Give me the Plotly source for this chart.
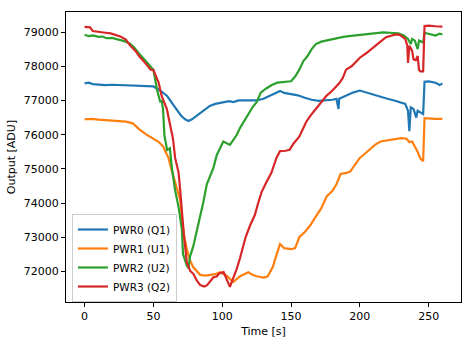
import plotly.graph_objects as go

# ---- data ----
t_pwr0 = [0, 3, 6, 10, 15, 20, 25, 30, 35, 40, 45, 50, 55, 60, 65, 70, 73, 75.5, 78, 81.5, 86, 91, 95, 100,
          105, 108, 112, 118, 125, 130, 135, 140, 142, 145, 150, 155, 160, 165, 170, 175, 180,
          183, 184.5, 185, 190, 195, 200, 205, 210, 215, 220, 225, 230, 233, 235, 236, 237, 239, 241, 242, 244,
          246, 247, 250, 255, 258, 260]
v_pwr0 = [77500, 77520, 77480, 77460, 77450, 77460, 77450, 77460, 77440, 77430, 77420, 77410, 77290, 77130,
          76840, 76560, 76450, 76400, 76450, 76560, 76700, 76840, 76900, 76950,
          76980, 76950, 77000, 77000, 77000, 77050, 77150, 77250, 77280, 77220, 77180, 77150,
          77080, 77020, 76990, 77000, 77020, 77050, 76750, 77050, 77150, 77230, 77290, 77230, 77150, 77100,
          77050, 77000, 76950, 76900, 76700, 76100, 76800, 76750, 76500, 76700, 76650, 76600, 77550, 77560,
          77520, 77450, 77500]

t_pwr1 = [0, 5, 10, 15, 20, 25, 30, 35, 40, 45, 50, 54, 57, 61, 63, 65, 67, 69.5, 71, 72.5, 74.3, 76.7, 79,
          84, 88, 91, 95, 98.4, 103, 108, 113, 119, 122, 125, 130, 133, 135, 137,
          138, 140, 142, 145, 150, 153, 156, 160, 164, 168, 172, 176, 180, 183, 186, 190, 193, 197, 200, 203,
          207, 211, 215, 220, 225, 230, 234, 236, 238, 240, 242, 244, 246, 247, 250, 255, 260]
v_pwr1 = [76450, 76460, 76440, 76430, 76420, 76400, 76380, 76330, 76150, 76000, 75890, 75780, 75660, 75320,
          75000, 74700, 74400, 74090, 73500, 73000, 72650, 72310, 72120,
          71900, 71880, 71900, 71920, 71975, 71880, 71690, 71860, 71975, 71900, 71860, 71820, 71850, 72000,
          72150, 72300, 72550, 72800, 72680, 72650, 72680, 73000, 73150, 73350,
          73600, 73850, 74200, 74350, 74550, 74850, 74880, 74920, 75150, 75320, 75420, 75550, 75700, 75800,
          75830, 75870, 75900, 75880, 75780, 75800, 75650, 75500, 75300, 75220, 76480, 76470, 76460, 76460]

t_pwr2 = [0, 3, 6, 10, 13, 16, 20, 24, 27, 30, 33, 36, 40, 43, 46, 50, 52.6, 55, 56, 57, 58, 60, 62, 63.4,
          64.6, 65.8, 68.3, 70.7, 71.5, 74.3, 75.5, 76.7, 79, 81.5, 84, 86.3, 88.8, 91, 93.6, 96, 98.4, 100.8,
          105.6, 110.5, 113, 116, 119, 122, 125, 128, 132, 136, 140, 145, 150, 153, 156, 159, 162, 165, 168,
          172, 176, 180, 184, 188, 192, 197, 202, 207, 212, 217, 222, 228, 232, 235, 237, 238, 240, 242, 243,
          246, 247, 250, 255, 258, 260]
v_pwr2 = [78920, 78880, 78900, 78860, 78870, 78820, 78830, 78780, 78760, 78720, 78660, 78550, 78350, 78200,
          78080, 77900, 77320, 76950, 77000, 76750, 75980, 75550, 75600, 75030,
          74640, 74370, 73880, 73220, 72510, 72170, 72100, 72450, 72740, 73170, 73600, 74030, 74550, 74750,
          75030, 75400, 75600, 75800,
          75700, 75990, 76200, 76400, 76560, 76800, 76950,
          77230, 77350, 77450, 77520, 77540, 77560, 77700, 77900, 78150, 78300, 78500, 78650, 78720, 78760,
          78800, 78830, 78860, 78880, 78900, 78920, 78950, 78980, 78990, 78980, 78960, 78900, 78800, 78650,
          78800, 78750, 78500, 78750, 78700, 78980, 78950, 78900, 78950, 78930]

t_pwr3 = [0, 4, 6, 10, 15, 19, 23, 26, 30, 33, 37, 40, 44, 48, 50, 53.8, 56, 59.8, 61.7, 64.2, 65.8, 68.3,
          69.5, 72, 74.3, 76.7, 79, 81.5, 84, 87, 89, 91, 93.6, 96, 98, 101, 103, 105.6, 107,
          110.5, 113, 115.3, 117, 120, 123.7, 126, 128.6, 132, 135.8, 139.4, 142, 146, 149, 152, 156, 161,
          164, 168, 172, 175.6, 179, 182.8, 185, 187.6, 190, 194, 197, 200, 204.6, 208, 211.8, 215, 219, 223,
          226, 229, 231, 233, 234.5, 235, 236, 238, 239, 240.7, 242, 243, 244, 246, 247, 250, 255, 260]
v_pwr3 = [79150, 79140, 79030, 79000, 78980, 78960, 78920, 78870, 78780, 78610, 78450, 78280, 78100, 77900,
          77890, 77520, 77130, 76750, 76370, 75890, 75320, 74890,
          74370, 73120, 72260, 72020, 71930, 71740, 71600, 71560, 71600, 71700, 71830, 71850, 71950, 71980,
          71800, 71550, 71700, 72070, 72400, 72740, 73000, 73320, 73650, 73980, 74320, 74600, 74890, 75320,
          75520, 75530, 75560, 75750, 75940, 76370, 76550, 76750, 76950, 77130, 77250, 77420, 77500, 77660,
          77900, 78000, 78140, 78250, 78380, 78500, 78610, 78720, 78850, 78900, 78930, 78920, 78870, 78800,
          78600, 78100, 78600, 78450, 78200, 78180, 78300, 77900, 77850, 77850, 79180, 79190, 79170, 79160]

series_names = ["PWR0 (Q1)", "PWR1 (U1)", "PWR2 (U2)", "PWR3 (Q2)"]
series_t = [t_pwr0, t_pwr1, t_pwr2, t_pwr3]
series_v = [v_pwr0, v_pwr1, v_pwr2, v_pwr3]
colors = ["#1f77b4", "#ff7f0e", "#2ca02c", "#d62728"]

x_ticks = [0, 50, 100, 150, 200, 250]
y_ticks = [72000, 73000, 74000, 75000, 76000, 77000, 78000, 79000]

fig = go.Figure()
for name, t, v, c in zip(series_names, series_t, series_v, colors):
    fig.add_trace(go.Scatter(x=t, y=v, mode="lines", name=name,
                             line=dict(color=c, width=2.2)))

FONT = "DejaVu Sans"
axis_common = dict(showline=True, mirror=True, linecolor="black", linewidth=1,
                   ticks="outside", ticklen=4, tickcolor="black", showgrid=False,
                   zeroline=False, tickfont=dict(family=FONT, size=11, color="black"))

fig.update_layout(
    width=473, height=347,
    margin=dict(l=65, r=11, t=11, b=40),
    paper_bgcolor="white", plot_bgcolor="white",
    font=dict(family=FONT, size=11, color="black"),
    xaxis=dict(range=[-13.5, 273.5], tickvals=x_ticks,
               title=dict(text="Time [s]", font=dict(family=FONT, size=11), standoff=5), **axis_common),
    yaxis=dict(range=[71106, 79587], tickvals=y_ticks, tickformat="d",
               title=dict(text="Output [ADU]", font=dict(family=FONT, size=11), standoff=5), **axis_common),
    legend=dict(x=0.015, y=0.0, xanchor="left", yanchor="bottom",
                bgcolor="rgba(255,255,255,0.8)", bordercolor="#cccccc", borderwidth=1,
                font=dict(family=FONT, size=10.5), tracegroupgap=0, itemwidth=30),
    showlegend=True,
)

fig.write_html("out.html")
